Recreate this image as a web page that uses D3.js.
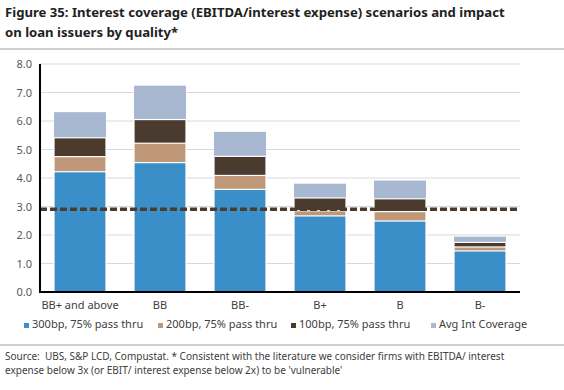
<!DOCTYPE html>
<html>
<head>
<meta charset="utf-8">
<script src="https://cdn.jsdelivr.net/npm/d3@7"></script>
<style>
  body { margin: 0; background: #fff; }
  svg { font-family: "Noto Sans", "Open Sans", sans-serif; }
</style>
</head>
<body>
<svg id="chart" width="564" height="390"></svg>
<script>
// data
const categories = ["BB+ and above", "BB", "BB-", "B+", "B", "B-"];
const bp300 = [4.22, 4.54, 3.60, 2.67, 2.49, 1.44];
const bp200 = [4.75, 5.22, 4.09, 2.85, 2.82, 1.58];
const bp100 = [5.41, 6.05, 4.76, 3.30, 3.27, 1.74];
const avgCoverage = [6.31, 7.24, 5.62, 3.80, 3.91, 1.94];
const threshold = 2.9;
const yTicks = [0, 1, 2, 3, 4, 5, 6, 7, 8];

const seriesNames = ["300bp, 75% pass thru", "200bp, 75% pass thru", "100bp, 75% pass thru", "Avg Int Coverage"];
const colors = ["#3a8fc9", "#bf9879", "#4b3a2e", "#a9b8d1"];
const series = [bp300, bp200, bp100, avgCoverage];

const svg = d3.select("#chart");
const m = { left: 40, right: 520, top: 64, bottom: 292 };

// title
const t1 = svg.append("text").attr("x", 5).attr("y", 17)
  .attr("font-size", 14).attr("font-weight", "bold").attr("fill", "#222")
  .text("Figure 35: Interest coverage (EBITDA/interest expense) scenarios and impact");
// shrink to the width of the original title line
const fs = 14 * 500 / t1.node().getComputedTextLength();
t1.attr("font-size", fs);
svg.append("text").attr("x", 5).attr("y", 37)
  .attr("font-size", fs).attr("font-weight", "bold").attr("fill", "#222")
  .text("on loan issuers by quality*");
svg.append("rect").attr("x", 0).attr("y", 48).attr("width", 564).attr("height", 2).attr("fill", "#cfcfcf");

const x = d3.scaleBand().domain(categories).range([m.left, m.right]).paddingInner(0.35).paddingOuter(0.175);
const y = d3.scaleLinear().domain([0, 8]).range([m.bottom, m.top]);

// grid
svg.append("g").selectAll("line").data(yTicks.slice(1)).join("line")
  .attr("x1", m.left).attr("x2", m.right)
  .attr("y1", d => y(d)).attr("y2", d => y(d))
  .attr("stroke", "#d9d9d9").attr("stroke-width", 1);

// y axis
const yAxis = svg.append("g").attr("transform", `translate(${m.left},0)`)
  .call(d3.axisLeft(y).tickValues(yTicks).tickFormat(d3.format(".1f")).tickSize(0).tickPadding(8));
yAxis.select(".domain").remove();
yAxis.selectAll("text").attr("font-size", 11).attr("fill", "#595959").attr("font-family", "Noto Sans");

// bars: widest scenario at the back, each from zero
const order = [3, 2, 1, 0];
order.forEach(si => {
  svg.append("g").selectAll("rect").data(series[si]).join("rect")
    .attr("x", (d, i) => x(categories[i]))
    .attr("width", x.bandwidth())
    .attr("y", d => y(d))
    .attr("height", d => y(0) - y(d))
    .attr("fill", colors[si])
    .attr("stroke", "#fff").attr("stroke-width", si === 3 ? 0 : 1.2);
});

// threshold line
svg.append("line")
  .attr("x1", m.left).attr("x2", m.right)
  .attr("y1", y(threshold)).attr("y2", y(threshold))
  .attr("stroke", "#4b3a2e").attr("stroke-width", 3.5).attr("stroke-dasharray", "7,3");

// axes lines
svg.append("line").attr("x1", m.left).attr("x2", m.left).attr("y1", m.top).attr("y2", m.bottom + 1)
  .attr("stroke", "#000").attr("stroke-width", 2);
svg.append("line").attr("x1", m.left - 1).attr("x2", m.right).attr("y1", m.bottom).attr("y2", m.bottom)
  .attr("stroke", "#000").attr("stroke-width", 2);

// x labels
const xAxis = svg.append("g").attr("transform", `translate(0,${m.bottom})`)
  .call(d3.axisBottom(x).tickSize(0).tickPadding(9));
xAxis.select(".domain").remove();
xAxis.selectAll("text").attr("font-size", 11).attr("fill", "#404040").attr("font-family", "Noto Sans");

// legend
const legendX = [24, 158, 291, 431];
const lg = svg.append("g").selectAll("g").data(seriesNames).join("g")
  .attr("transform", (d, i) => `translate(${legendX[i]},328)`);
lg.append("rect").attr("x", 0).attr("y", -5).attr("width", 5).attr("height", 5)
  .attr("fill", (d, i) => colors[i]);
lg.append("text").attr("x", 8).attr("y", 0).attr("font-size", 11).attr("fill", "#404040").text(d => d);

svg.append("rect").attr("x", 0).attr("y", 344).attr("width", 564).attr("height", 2).attr("fill", "#cfcfcf");

// source
svg.append("text").attr("x", 5).attr("y", 360).attr("font-size", 10).attr("fill", "#404040")
  .attr("xml:space", "preserve")
  .text("Source:  UBS, S&P LCD, Compustat. * Consistent with the literature we consider firms with EBITDA/ interest");
svg.append("text").attr("x", 5).attr("y", 374).attr("font-size", 10).attr("fill", "#404040")
  .text("expense below 3x (or EBIT/ interest expense below 2x) to be 'vulnerable'");
</script>
</body>
</html>
